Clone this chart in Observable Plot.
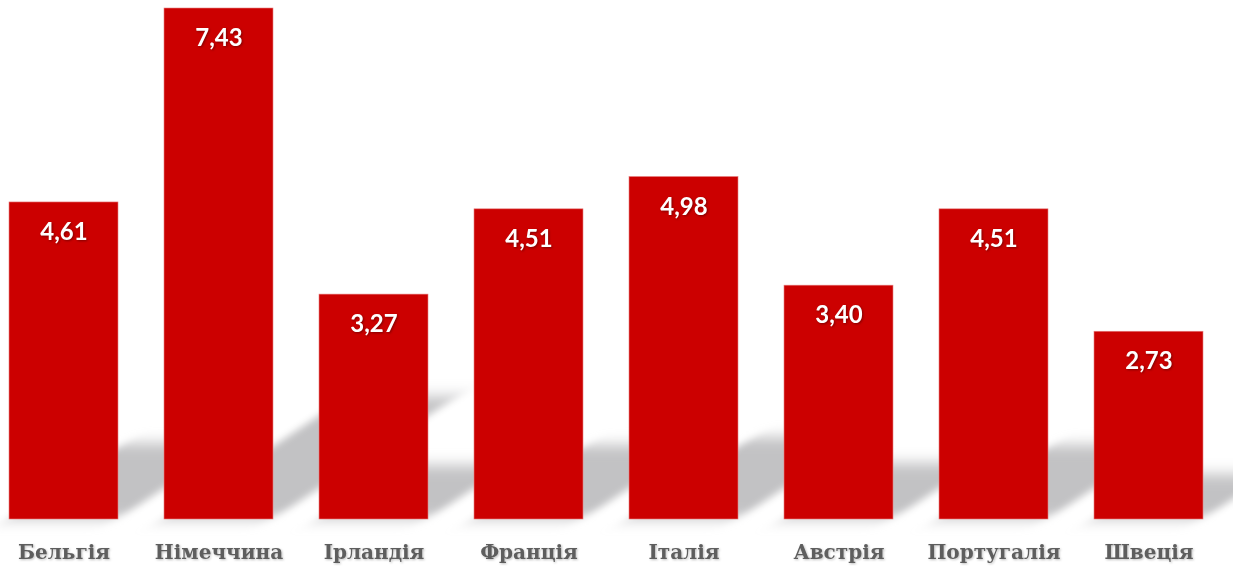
<!DOCTYPE html>
<html>
<head>
<meta charset="utf-8">
<script src="https://cdn.jsdelivr.net/npm/d3@7"></script>
<script src="https://cdn.jsdelivr.net/npm/@observablehq/plot@0.6"></script>
<style>
  html, body { margin: 0; padding: 0; background: #fff; }
  #chart svg { display: block; }
  #chart g[aria-label^="x-axis"] text {
    font-family: "DejaVu Serif", serif;
    font-weight: bold;
    font-size: 20px;
    fill: #5e5e5e;
    filter: drop-shadow(1px 1px 1px rgba(0,0,0,0.25));
  }
  #chart g[aria-label="text"] text {
    filter: drop-shadow(1px 1px 1px rgba(80,0,0,0.6));
  }
</style>
</head>
<body>
<div id="chart"></div>
<script>
const countries = ["Бельгія", "Німеччина", "Ірландія", "Франція", "Італія", "Австрія", "Португалія", "Швеція"];
const values = [4.61, 7.43, 3.27, 4.51, 4.98, 3.40, 4.51, 2.73];

const shadowRatio = 0.24;   // visual shadow rise relative to bar height
const shadowSkew = 1.5;     // horizontal shift per unit of rise

const data = countries.map((c, i) => ({country: c, value: values[i], shadow: values[i] * shadowRatio}));
const fmt = v => d3.format(".2f")(v).replace(".", ",");

const plot = Plot.plot({
  width: 1233,
  height: 566,
  marginTop: 8,
  marginBottom: 47,
  marginLeft: 8,
  marginRight: 30,
  style: {background: "#fff"},
  x: {domain: countries, paddingInner: 0.297, paddingOuter: 0, tickSize: 0, tickPadding: 25, label: null},
  y: {domain: [0, 7.43], axis: null},
  marks: [
    Plot.barY(data, {x: "country", y: "shadow", fill: "#c2c2c4"}),
    Plot.barY(data, {x: "country", y: "value", fill: "#cc0000", stroke: "#e88080", strokeWidth: 0.6}),
    Plot.text(data, {x: "country", y: "value", text: d => fmt(d.value), dy: 30, fill: "white",
      fontSize: 24, fontWeight: "bold", fontFamily: "Lato, 'Open Sans', sans-serif"})
  ]
});

document.getElementById("chart").appendChild(plot);

// Turn the first bar group into a blurred, skewed perspective shadow
const svg = d3.select(plot);
const defs = svg.insert("defs", ":first-child");
defs.append("filter").attr("id", "shadowBlur").attr("x", "-30%").attr("y", "-30%").attr("width", "160%").attr("height", "160%")
  .append("feGaussianBlur").attr("stdDeviation", 7);

const barGroups = plot.querySelectorAll('g[aria-label="bar"]');
const shadowG = barGroups[0];
const mainBar = barGroups[1].querySelector("rect");
const base = +mainBar.getAttribute("y") + +mainBar.getAttribute("height");
const wrapper = document.createElementNS("http://www.w3.org/2000/svg", "g");
shadowG.parentNode.insertBefore(wrapper, shadowG);
wrapper.appendChild(shadowG);
const angle = -Math.atan(shadowSkew) * 180 / Math.PI;
wrapper.setAttribute("transform", `translate(0,${base}) skewX(${angle}) translate(0,${-base})`);
shadowG.setAttribute("filter", "url(#shadowBlur)");
</script>
</body>
</html>
